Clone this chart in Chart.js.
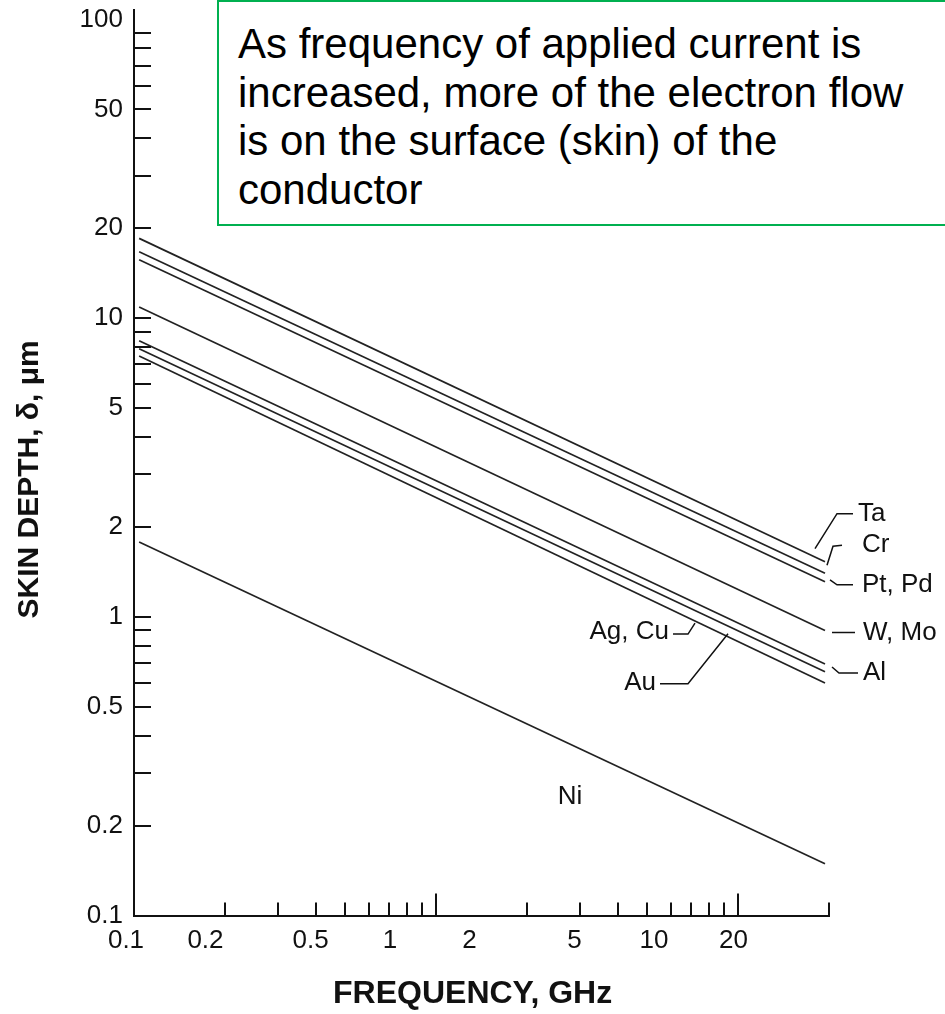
<!DOCTYPE html>
<html>
<head>
<meta charset="utf-8">
<title>Skin depth vs frequency</title>
<script src="https://cdn.jsdelivr.net/npm/chart.js@4.4.1/dist/chart.umd.min.js"></script>
<style>
  html, body { margin: 0; padding: 0; background: #fff; }
  #wrap { position: relative; width: 945px; height: 1014px; overflow: hidden; }
  #note {
    position: absolute; left: 217px; top: 0; width: 760px; height: 226px;
    box-sizing: border-box; border: 2px solid #00b050; background: #fff;
    padding: 18px 0 0 19px;
    font-family: "Liberation Sans", Arial, sans-serif; font-size: 42px; line-height: 48.5px; color: #000;
  }
</style>
</head>
<body>
<div id="wrap">
  <canvas id="skinChart"></canvas>
  <div id="note">As frequency of applied current is<br>increased, more of the electron flow<br>is on the surface (skin) of the<br>conductor</div>
</div>

<script>
// frequency (GHz) where each line starts and ends
var freqGHz = [0.104, 19.4]

// skin depth (um) at those two frequencies
var depthTa   = [18.5, 1.53]
var depthCr   = [16.7, 1.40]
var depthPtPd = [15.7, 1.31]
var depthWMo  = [10.9, 0.90]
var depthAl   = [8.4, 0.695]
var depthAu   = [7.9, 0.655]
var depthAgCu = [7.47, 0.60]
var depthNi   = [1.78, 0.149]

var metals = ['Ta', 'Cr', 'Pt, Pd', 'W, Mo', 'Al', 'Au', 'Ag, Cu', 'Ni']
var depths = [depthTa, depthCr, depthPtPd, depthWMo, depthAl, depthAu, depthAgCu, depthNi]

// tick labels
var xLabels = [0.1, 0.2, 0.5, 1, 2, 5, 10, 20]
var yLabels = [0.1, 0.2, 0.5, 1, 2, 5, 10, 20, 50, 100]

// tick marks (drawn inward)
var xMarks = [0.2, 0.3, 0.4, 0.5, 0.6, 0.7, 0.8, 0.9, 2, 3, 4, 5, 6, 7, 8, 9, 20]
var xBigMarks = [1, 10]
var yMarks = [0.2, 0.3, 0.4, 0.5, 0.6, 0.7, 0.8, 0.9,
              1, 2, 3, 4, 5, 6, 7, 8, 9,
              10, 20, 30, 40, 50, 60, 70, 80, 90]

var FONT = '"Liberation Sans", Arial, sans-serif'

// callouts, offsets in px from the end of each line
var callouts = [
    {i: 0, path: [[-10,-13],[12,-48],[28,-48]], at: [33,-48], align: 'left'},
    {i: 1, path: [[2,-8],[8,-27],[17,-28]], at: [37,-28], align: 'left'},
    {i: 2, path: [[5,-2],[12,3],[28,3]], at: [37,3], align: 'left'},
    {i: 3, path: [[7,2],[30,2]], at: [38,2], align: 'left'},
    {i: 4, path: [[7,3],[14,9],[33,9]], at: [38,9], align: 'left'},
    {i: 6, path: [[-130,-60],[-137,-49],[-152,-49]], at: [-156,-51], align: 'right'},
    {i: 5, path: [[-97,-38],[-137,12],[-165,12]], at: [-169,11], align: 'right'},
    {i: 7, path: [], at: [-255,-67], align: 'center'}
]

var marksPlugin = {
    id: 'marks',
    afterDraw: function(chart){
        var ctx = chart.ctx
        var a = chart.chartArea
        var ys = chart.scales.y
        var xt = chart.scales.xt

        ctx.save()
        ctx.strokeStyle = '#111'
        ctx.lineWidth = 2
        ctx.beginPath()
        yMarks.forEach(function(v){
            var py = Math.round(ys.getPixelForValue(v))
            ctx.moveTo(a.left, py)
            ctx.lineTo(a.left + 17, py)
        })
        xMarks.forEach(function(v){
            var px = Math.round(xt.getPixelForValue(v))
            ctx.moveTo(px, a.bottom)
            ctx.lineTo(px, a.bottom - 13)
        })
        xBigMarks.forEach(function(v){
            var px = Math.round(xt.getPixelForValue(v))
            ctx.moveTo(px, a.bottom)
            ctx.lineTo(px, a.bottom - 22)
        })
        ctx.stroke()

        ctx.lineWidth = 1.5
        ctx.fillStyle = '#111'
        ctx.font = '26px ' + FONT
        ctx.textBaseline = 'middle'
        callouts.forEach(function(c){
            var pts = chart.getDatasetMeta(c.i).data
            var end = pts[pts.length - 1]
            if (c.path.length){
                ctx.beginPath()
                c.path.forEach(function(p, k){
                    if (k == 0) ctx.moveTo(end.x + p[0], end.y + p[1])
                    else ctx.lineTo(end.x + p[0], end.y + p[1])
                })
                ctx.stroke()
            }
            ctx.textAlign = c.align
            ctx.fillText(metals[c.i], end.x + c.at[0], end.y + c.at[1])
        })
        ctx.restore()
    }
}

var datasets = []
metals.forEach(function(name, k){
    datasets.push({
        label: name,
        data: freqGHz.map(function(f, i){ return {x: f, y: depths[k][i]} }),
        xAxisID: 'xt',
        yAxisID: 'y',
        borderColor: '#222',
        borderWidth: 1.7,
        pointRadius: 0,
        tension: 0
    })
})

var ctx = document.getElementById('skinChart').getContext('2d')
var chart = new Chart(ctx, {
    type: 'line',
    data: { datasets: datasets },
    options: {
        responsive: true,
        maintainAspectRatio: false,
        animation: false,
        layout: { padding: { top: 10, right: 116, left: 0, bottom: 0 } },
        plugins: {
            legend: { display: false },
            tooltip: { enabled: false }
        },
        scales: {
            // axis that carries the tick labels
            x: {
                type: 'logarithmic',
                position: 'bottom',
                min: 0.1,
                max: 42.9,
                afterBuildTicks: function(s){ s.ticks = xLabels.map(function(v){ return {value: v} }) },
                afterFit: function(s){ s.height = 98.5; s.paddingLeft = 0; s.paddingRight = 0 },
                grid: { display: false, drawTicks: false },
                border: { display: true, color: '#111', width: 2 },
                ticks: {
                    autoSkip: false, maxRotation: 0, padding: 10, labelOffset: -8,
                    color: '#111', font: { family: FONT, size: 26 },
                    callback: function(v){ return String(v) }
                },
                title: {
                    display: true, text: 'FREQUENCY, GHz  ', color: '#111',
                    font: { family: FONT, size: 32, weight: 'bold' },
                    padding: { top: 0, bottom: 1 }
                }
            },
            // axis the lines and tick marks sit on
            xt: {
                type: 'logarithmic',
                position: 'bottom',
                display: false,
                min: 0.1,
                max: 20
            },
            y: {
                type: 'logarithmic',
                position: 'left',
                min: 0.1,
                max: 107.6,
                afterBuildTicks: function(s){ s.ticks = yLabels.map(function(v){ return {value: v} }) },
                afterFit: function(s){ s.width = 134; s.paddingTop = 0; s.paddingBottom = 0 },
                grid: { display: false, drawTicks: false },
                border: { display: true, color: '#111', width: 2 },
                ticks: {
                    autoSkip: false, padding: 11,
                    color: '#111', font: { family: FONT, size: 26 },
                    callback: function(v){ return String(v) }
                },
                title: {
                    display: true, text: 'SKIN DEPTH, δ, μm    ', color: '#111',
                    font: { family: FONT, size: 30, weight: 'bold' },
                    padding: { top: 12, bottom: 0 }
                }
            }
        }
    },
    plugins: [marksPlugin]
})
</script>
</body>
</html>
